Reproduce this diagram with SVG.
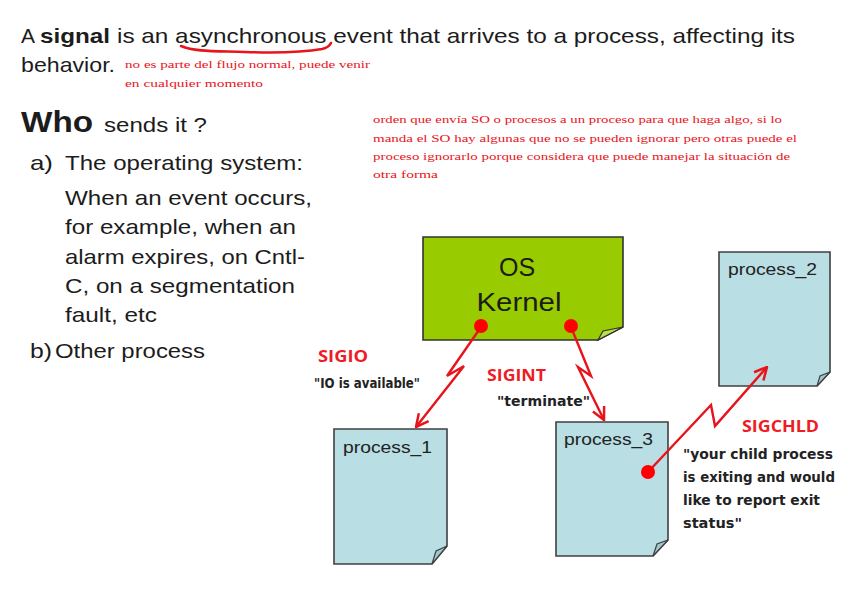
<svg xmlns="http://www.w3.org/2000/svg" width="848" height="591" viewBox="0 0 848 591">
<defs>
<style>
.t{font-family:"Liberation Sans",Arial,sans-serif;fill:#1c1c1c}
.b{font-weight:bold}
.note{font-family:"Liberation Serif","Times New Roman",serif;fill:#e8141b;font-size:11px}
.sig{font-family:"Open Sans","Liberation Sans",sans-serif;font-weight:bold;fill:#ee1c24;font-size:16px}
.q{font-family:"DejaVu Sans",sans-serif;font-weight:bold;fill:#222;font-size:14px}
.proc{fill:#b9dee3;stroke:#404040;stroke-width:1.6}
.fold{fill:#9fc9cf;stroke:#404040;stroke-width:1.2}
.lbl{font-family:"Liberation Sans",Arial,sans-serif;font-size:17px;fill:#222}
.wire{fill:none;stroke:#e8141b;stroke-width:2.4;stroke-linejoin:miter}
.dot{fill:#ff0000}
</style>
<marker id="ah" viewBox="0 0 12 12" refX="11" refY="6" markerWidth="15" markerHeight="15" orient="auto" markerUnits="userSpaceOnUse">
<path d="M1,1 L11,6 L1,11" fill="none" stroke="#e8141b" stroke-width="2"/>
</marker>
</defs>
<rect width="848" height="591" fill="#ffffff"/>

<g id="intro">
<text class="t" x="21" y="43" font-size="21">A</text>
<text class="t b" x="40" y="43" font-size="21" textLength="70" lengthAdjust="spacingAndGlyphs">signal</text>
<text class="t" x="117" y="43" font-size="21" textLength="678" lengthAdjust="spacingAndGlyphs">is an asynchronous event that arrives to a process, affecting its</text>
<text class="t" x="21" y="72" font-size="21" textLength="94" lengthAdjust="spacingAndGlyphs">behavior.</text>
<path d="M181,46 C195,52 215,51 245,52 C275,53 305,52 322,49 C327,48 330,45 331,43" fill="none" stroke="#e8141b" stroke-width="2.6" stroke-linecap="round"/>
<text class="note" x="125" y="68" textLength="245" lengthAdjust="spacingAndGlyphs">no es parte del flujo normal, puede venir</text>
<text class="note" x="125" y="87" textLength="138" lengthAdjust="spacingAndGlyphs">en cualquier momento</text>
</g>

<g id="who">
<text class="t b" x="21" y="132" font-size="29" textLength="72" lengthAdjust="spacingAndGlyphs">Who</text>
<text class="t" x="104" y="132" font-size="20" textLength="103" lengthAdjust="spacingAndGlyphs">sends it ?</text>
<text class="t" x="30" y="170" font-size="21" textLength="23" lengthAdjust="spacingAndGlyphs">a)</text>
<text class="t" x="65" y="170" font-size="21" textLength="238" lengthAdjust="spacingAndGlyphs">The operating system:</text>
<text class="t" x="65" y="205" font-size="21" textLength="247" lengthAdjust="spacingAndGlyphs">When an event occurs,</text>
<text class="t" x="65" y="234" font-size="21" textLength="231" lengthAdjust="spacingAndGlyphs">for example, when an</text>
<text class="t" x="65" y="264" font-size="21" textLength="240" lengthAdjust="spacingAndGlyphs">alarm expires, on Cntl-</text>
<text class="t" x="65" y="293" font-size="21" textLength="230" lengthAdjust="spacingAndGlyphs">C, on a segmentation</text>
<text class="t" x="65" y="322" font-size="21" textLength="92" lengthAdjust="spacingAndGlyphs">fault, etc</text>
<text class="t" x="30" y="358" font-size="21" textLength="22" lengthAdjust="spacingAndGlyphs">b)</text>
<text class="t" x="55" y="358" font-size="21" textLength="150" lengthAdjust="spacingAndGlyphs">Other process</text>
</g>

<g id="note2">
<text class="note" x="373" y="123" textLength="409" lengthAdjust="spacingAndGlyphs">orden que envía SO o procesos a un proceso para que haga algo, si lo</text>
<text class="note" x="373" y="142" textLength="424" lengthAdjust="spacingAndGlyphs">manda el SO hay algunas que no se pueden ignorar pero otras puede el</text>
<text class="note" x="373" y="160" textLength="417" lengthAdjust="spacingAndGlyphs">proceso ignorarlo porque considera que puede manejar la situación de</text>
<text class="note" x="373" y="178" textLength="65" lengthAdjust="spacingAndGlyphs">otra forma</text>
</g>

<g id="kernel">
<path d="M423,237 H623 V327 L598,340 H423 Z" fill="#99cc00" stroke="#333" stroke-width="1.6"/>
<path d="M598,340 L603,331 L623,327 Z" fill="#b8e04a" stroke="#333" stroke-width="1.2"/>
<text class="t" x="517" y="276" font-size="25" text-anchor="middle" fill="#111">OS</text>
<text class="t" x="519" y="311" font-size="25" text-anchor="middle" textLength="85" lengthAdjust="spacingAndGlyphs">Kernel</text>
</g>

<g id="process_1">
<path class="proc" d="M334,429 H447 V546 L432,564 H334 Z"/>
<path class="fold" d="M432,564 L436,551 L447,546 Z"/>
<text class="lbl" x="343" y="453" textLength="89" lengthAdjust="spacingAndGlyphs">process_1</text>
</g>

<g id="process_2">
<path class="proc" d="M719,252 H830 V372 L817,386 H719 Z"/>
<path class="fold" d="M817,386 L820,376 L830,372 Z"/>
<text class="lbl" x="728" y="275" textLength="89" lengthAdjust="spacingAndGlyphs">process_2</text>
</g>

<g id="process_3">
<path class="proc" d="M556,422 H668 V540 L653,556 H556 Z"/>
<path class="fold" d="M653,556 L657,544 L668,540 Z"/>
<text class="lbl" x="564" y="445" textLength="89" lengthAdjust="spacingAndGlyphs">process_3</text>
</g>

<g id="connectors">
<polyline class="wire" points="481,327 447,376 464,366 416,427" marker-end="url(#ah)"/>
<polyline class="wire" points="571,327 591,376 578,367 604,420" marker-end="url(#ah)"/>
<polyline class="wire" points="648,472 711,405 715,426 767,367" marker-end="url(#ah)"/>
<circle class="dot" cx="481" cy="326" r="7"/>
<circle class="dot" cx="571" cy="326" r="7"/>
<circle class="dot" cx="648" cy="472" r="7"/>
</g>

<g id="labels">
<text class="sig" x="318" y="362" textLength="50" lengthAdjust="spacingAndGlyphs">SIGIO</text>
<text class="q" x="314" y="388" textLength="106" lengthAdjust="spacingAndGlyphs">"IO is available"</text>
<text class="sig" x="487" y="381" textLength="59" lengthAdjust="spacingAndGlyphs">SIGINT</text>
<text class="q" x="497" y="406" textLength="93" lengthAdjust="spacingAndGlyphs">"terminate"</text>
<text class="sig" x="742" y="432" textLength="77" lengthAdjust="spacingAndGlyphs">SIGCHLD</text>
<text class="q" x="683" y="459" textLength="150" lengthAdjust="spacingAndGlyphs">"your child process</text>
<text class="q" x="683" y="482" textLength="152" lengthAdjust="spacingAndGlyphs">is exiting and would</text>
<text class="q" x="683" y="505" textLength="137" lengthAdjust="spacingAndGlyphs">like to report exit</text>
<text class="q" x="683" y="528" textLength="59" lengthAdjust="spacingAndGlyphs">status"</text>
</g>
</svg>
